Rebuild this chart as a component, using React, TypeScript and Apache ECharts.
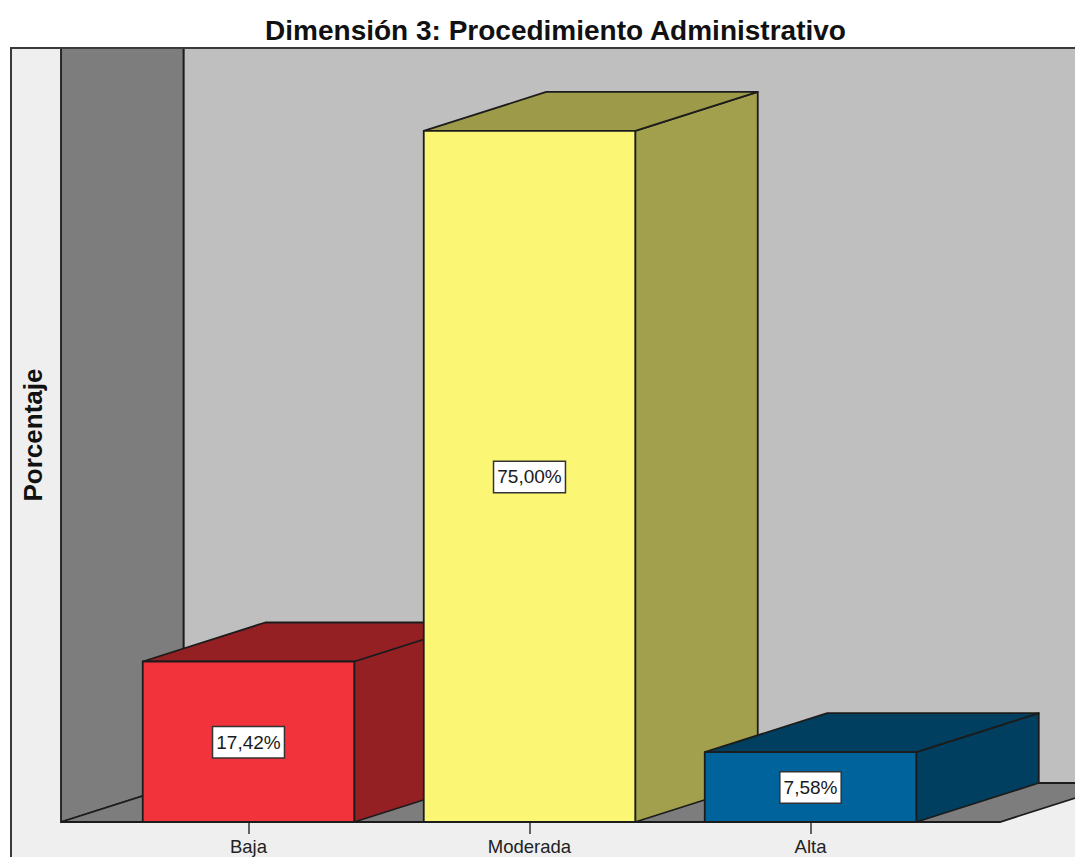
import React, { useEffect, useRef } from "react";
import * as echarts from "echarts";

const categories = ["Baja", "Moderada", "Alta"];
const percentages = [17.42, 75.0, 7.58];
const valueLabels = ["17,42%", "75,00%", "7,58%"];
const frontColors = ["#f2333b", "#fcf675", "#00639b"];
const sideColors = ["#952024", "#a3a04d", "#003f60"];
const topColors = ["#952024", "#9d9a49", "#003f60"];

const titleText = "Dimensión 3: Procedimiento Administrativo";
const yAxisTitle = "Porcentaje";

// Oblique offset of the 3D box depth, in pixels.
const DEPTH_X = 122.5;
const DEPTH_Y = -39;
const BAR_RATIO = 211.5 / 281;
const EDGE = "#1c1c1c";

// Plot box of the category/value axes.
const GRID_LEFT = 108;
const GRID_WIDTH = 843;
const GRID_TOP = 48;
const GRID_BOTTOM_Y = 822;
const AXIS_MAX = 84;

// Room frame: the floor runs from the left wall to the open right side.
const FRAME_X = 11;
const WALL_FRONT_X = 61;
const WALL_BACK_X = WALL_FRONT_X + DEPTH_X;
const FLOOR_END_X = 1000;
const BACK_Y = GRID_BOTTOM_Y + DEPTH_Y;
const W = 1075;
const H = 857;

function poly(points: number[][], fill: string, width = 1.8) {
  return {
    type: "polygon",
    shape: { points },
    style: { fill, stroke: EDGE, lineWidth: width, lineJoin: "round" },
    silent: true,
  };
}

function renderBox(params: any, api: any) {
  const i = params.dataIndex;
  const value = api.value(1);
  const [cx, topY] = api.coord([api.value(0), value]);
  const [, baseY] = api.coord([api.value(0), 0]);
  const half = (api.size([1, 0])[0] * BAR_RATIO) / 2;
  const l = cx - half;
  const r = cx + half;
  const dx = DEPTH_X;
  const dy = DEPTH_Y;
  return {
    type: "group",
    children: [
      poly([[r, topY], [r + dx, topY + dy], [r + dx, baseY + dy], [r, baseY]], sideColors[i]),
      poly([[l, topY], [l + dx, topY + dy], [r + dx, topY + dy], [r, topY]], topColors[i]),
      poly([[l, topY], [r, topY], [r, baseY], [l, baseY]], frontColors[i]),
      {
        type: "text",
        x: cx,
        y: (topY + baseY) / 2 + 0.5,
        silent: true,
        style: {
          text: valueLabels[i],
          font: '19px "Liberation Sans", Arial, sans-serif',
          fill: "#1a1a1a",
          align: "center",
          verticalAlign: "middle",
          backgroundColor: "#ffffff",
          borderColor: "#333333",
          borderWidth: 1.5,
          padding: [6, 3, 5, 3],
        },
      },
    ],
  };
}

export default function App() {
  const ref = useRef<HTMLDivElement>(null);

  useEffect(() => {
    document.body.style.margin = "0";
    const chart = echarts.init(ref.current!, undefined, { renderer: "svg" });
    chart.setOption({
      animation: false,
      backgroundColor: "#ffffff",
      title: {
        text: titleText,
        left: 550.5,
        top: 11,
        textAlign: "center",
        textStyle: {
          fontFamily: '"Liberation Sans", Arial, sans-serif',
          fontSize: 28,
          fontWeight: "bold",
          color: "#111111",
        },
      },
      grid: {
        left: GRID_LEFT,
        width: GRID_WIDTH,
        top: GRID_TOP,
        height: GRID_BOTTOM_Y - GRID_TOP,
      },
      xAxis: {
        type: "category",
        data: categories,
        axisLine: { show: false },
        axisTick: { show: true, alignWithLabel: true, length: 12, lineStyle: { color: "#333333", width: 1.5 } },
        axisLabel: {
          color: "#222222",
          fontFamily: '"Liberation Sans", Arial, sans-serif',
          fontSize: 18.5,
          margin: 15,
        },
      },
      yAxis: {
        type: "value",
        min: 0,
        max: AXIS_MAX,
        axisLine: { show: false },
        axisTick: { show: false },
        axisLabel: { show: false },
        splitLine: { show: false },
        name: yAxisTitle,
        nameLocation: "middle",
        nameGap: 62,
        nameRotate: 90,
        nameTextStyle: {
          fontFamily: '"Liberation Sans", Arial, sans-serif',
          fontSize: 26,
          fontWeight: "bold",
          color: "#111111",
        },
      },
      graphic: [
        { type: "rect", shape: { x: FRAME_X, y: GRID_TOP, width: W, height: H }, style: { fill: "#efefef" }, silent: true, z: -5 },
        { type: "rect", shape: { x: WALL_BACK_X, y: GRID_TOP, width: W, height: BACK_Y - GRID_TOP }, style: { fill: "#bfbfbf", stroke: EDGE, lineWidth: 1.8 }, silent: true, z: -4 },
        {
          type: "polygon",
          shape: { points: [[WALL_FRONT_X, GRID_TOP], [WALL_BACK_X, GRID_TOP], [WALL_BACK_X, BACK_Y], [WALL_FRONT_X, GRID_BOTTOM_Y]] },
          style: { fill: "#7d7d7d", stroke: EDGE, lineWidth: 1.8 },
          silent: true,
          z: -3,
        },
        {
          type: "polygon",
          shape: { points: [[WALL_FRONT_X, GRID_BOTTOM_Y], [WALL_BACK_X, BACK_Y], [FLOOR_END_X + DEPTH_X, BACK_Y], [FLOOR_END_X, GRID_BOTTOM_Y]] },
          style: { fill: "#7d7d7d", stroke: EDGE, lineWidth: 1.8 },
          silent: true,
          z: -3,
        },
        {
          type: "polyline",
          shape: { points: [[FRAME_X, H], [FRAME_X, GRID_TOP], [W, GRID_TOP]] },
          style: { fill: "none", stroke: "#3a3a3a", lineWidth: 2 },
          silent: true,
          z: -2,
        },
      ],
      series: [
        {
          type: "custom",
          coordinateSystem: "cartesian2d",
          clip: false,
          renderItem: renderBox,
          encode: { x: 0, y: 1 },
          data: categories.map((c, i) => [i, percentages[i]]),
        },
      ],
    });
    return () => chart.dispose();
  }, []);

  return <div ref={ref} style={{ width: W, height: H }} />;
}
